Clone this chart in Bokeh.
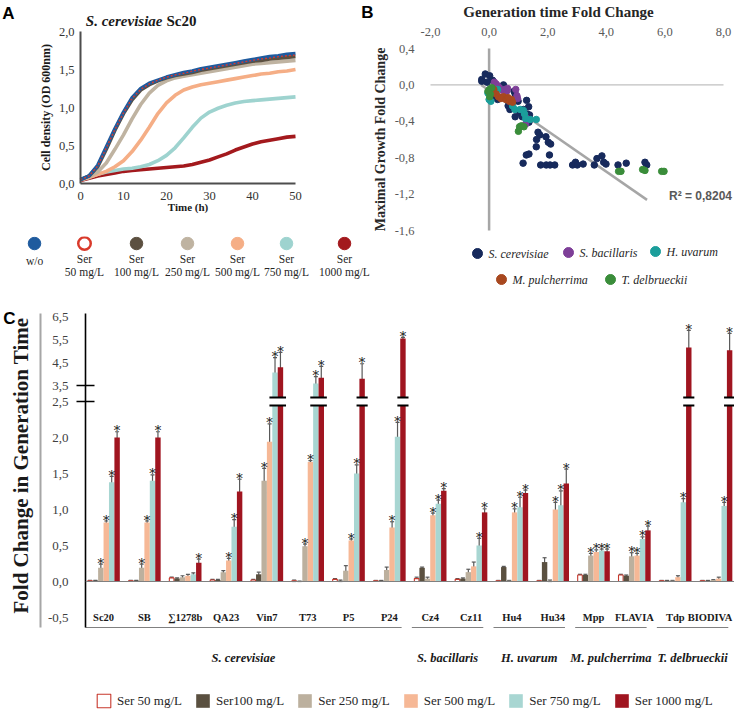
import math
from bokeh.plotting import figure
from bokeh.models import (Range1d, FixedTicker, Label, Span, Whisker, ColumnDataSource,
                          Legend, LegendItem, TeeHead)
from bokeh.layouts import column, row
from bokeh.embed import file_html
from bokeh.resources import INLINE
from bokeh.core.properties import value

SERIF = "Liberation Serif"
SANS = "Liberation Sans"
TXT = "#262626"

# ====================== DATA ======================
# ---- Panel A : growth curves (OD 600nm) ----
time_h = [0, 2, 4, 6, 8, 10, 12, 14, 16, 18, 20, 22, 24, 26, 28, 30, 32, 34, 36, 38, 40, 42, 44, 46, 48, 50]
od_wo = [0.05, 0.10, 0.24, 0.48, 0.72, 0.94, 1.13, 1.25, 1.32, 1.36, 1.40, 1.43, 1.46, 1.48, 1.51, 1.53, 1.55, 1.57, 1.59, 1.61, 1.63, 1.65, 1.67, 1.68, 1.70, 1.71]
od_ser50 = [0.05, 0.10, 0.23, 0.47, 0.71, 0.93, 1.12, 1.24, 1.31, 1.36, 1.40, 1.43, 1.45, 1.48, 1.50, 1.52, 1.54, 1.56, 1.58, 1.60, 1.62, 1.64, 1.65, 1.67, 1.68, 1.69]
od_ser100 = [0.05, 0.10, 0.22, 0.45, 0.70, 0.92, 1.10, 1.23, 1.30, 1.35, 1.39, 1.42, 1.44, 1.46, 1.49, 1.51, 1.53, 1.55, 1.57, 1.59, 1.61, 1.62, 1.64, 1.65, 1.66, 1.67]
od_ser250 = [0.05, 0.09, 0.15, 0.27, 0.45, 0.64, 0.85, 1.04, 1.19, 1.29, 1.35, 1.39, 1.41, 1.43, 1.45, 1.47, 1.49, 1.51, 1.53, 1.55, 1.57, 1.58, 1.59, 1.60, 1.61, 1.62]
od_ser500 = [0.05, 0.08, 0.12, 0.16, 0.22, 0.30, 0.42, 0.57, 0.74, 0.92, 1.06, 1.16, 1.23, 1.27, 1.30, 1.32, 1.34, 1.36, 1.38, 1.40, 1.42, 1.44, 1.45, 1.47, 1.48, 1.50]
od_ser750 = [0.05, 0.08, 0.12, 0.15, 0.17, 0.19, 0.20, 0.22, 0.25, 0.30, 0.37, 0.47, 0.60, 0.74, 0.86, 0.94, 0.99, 1.03, 1.06, 1.08, 1.09, 1.10, 1.11, 1.12, 1.13, 1.14]
od_ser1000 = [0.04, 0.07, 0.10, 0.12, 0.14, 0.16, 0.17, 0.18, 0.19, 0.20, 0.21, 0.22, 0.23, 0.25, 0.28, 0.31, 0.35, 0.39, 0.44, 0.48, 0.52, 0.55, 0.57, 0.59, 0.61, 0.62]
curve_names = ["w/o", "Ser 50 mg/L", "Ser 100 mg/L", "Ser 250 mg/L", "Ser 500 mg/L", "Ser 750 mg/L", "Ser 1000 mg/L"]
curve_colors = ["#1F5B9E", "#D93A2B", "#5C5040", "#BFB3A1", "#F5AE86", "#9ED3CF", "#A3191D"]
a_xticks = [0, 10, 20, 30, 40, 50]
a_yticks = [0, 0.5, 1.0, 1.5, 2.0]

# ---- Panel B : generation time FC vs maximal growth FC ----
sc_x = [-0.25, -0.13, 0.02, -0.25, 0.12, -0.07, 0.09, 0.38, 0.29, 0.49, 0.65, 0.71, 0.85, 0.89, 0.89, 0.99, 1.05, 1.13, 1.17, 1.28, 1.30, 1.35, 1.38, 1.36, 1.67, 1.73, 1.62, 1.61, 1.94, 2.02, 2.10, 1.27, 1.36, 1.16, 1.76, 1.95, 2.06, 2.08, 2.24, 2.85, 2.95, 3.01, 3.21, 3.59, 3.68, 3.85, 3.91, 3.99, 4.40, 4.68, 5.32, 5.38]
sc_y = [0.06, 0.12, 0.10, 0.04, 0.05, 0.03, -0.13, -0.14, -0.16, 0.00, -0.23, -0.27, -0.07, -0.10, -0.35, -0.18, -0.31, -0.35, -0.27, -0.17, -0.32, -0.24, -0.33, -0.41, -0.52, -0.55, -0.60, -0.68, -0.57, -0.63, -0.65, -0.77, -0.76, -0.86, -0.88, -0.88, -0.77, -0.88, -0.88, -0.88, -0.85, -0.88, -0.87, -0.88, -0.81, -0.78, -0.85, -0.87, -0.88, -0.86, -0.85, -0.88]
sb_x = [0.18, 0.24, 0.29, 0.35, 0.46, 0.54, 0.60, 0.63, 0.91, 0.95, 0.97, 1.29, 1.25]
sb_y = [0.03, 0.01, -0.01, -0.03, -0.06, -0.05, -0.07, -0.04, -0.05, -0.12, -0.15, -0.37, -0.43]
hu_x = [-0.04, 0.00, 0.06, 0.12, 0.29, 0.80, 0.88, 1.06, 1.17, 1.21, 1.25, 1.61, 1.40]
hu_y = [-0.09, -0.16, -0.18, -0.07, -0.05, -0.23, -0.27, -0.27, -0.28, -0.32, -0.37, -0.38, -0.38]
mp_x = [0.16, 0.24, 0.32, 0.40, 0.49, 0.57, 0.69, 0.76, 0.80, 0.65]
mp_y = [-0.05, -0.10, -0.13, -0.15, -0.13, -0.16, -0.18, -0.16, -0.19, -0.14]
td_x = [0.01, 0.04, -0.04, 0.09, 0.02, 1.04, 1.10, 1.19, 1.00, 4.42, 4.50, 5.24, 5.32, 5.89, 5.97]
td_y = [-0.05, -0.10, -0.07, -0.03, -0.13, -0.46, -0.45, -0.46, -0.51, -0.95, -0.95, -0.93, -0.94, -0.95, -0.95]
species = ["S. cerevisiae", "S. bacillaris", "H. uvarum", "M. pulcherrima", "T. delbrueckii"]
species_colors = ["#172A5C", "#7E3F98", "#1B9E9B", "#A8481F", "#3A8D3A"]
trend_x = [-0.27, 5.39]
trend_slope = -0.2232
trend_intercept = -0.0603
r2_text = "R² = 0,8204"
b_xticks = [-2, 0, 2, 4, 6, 8]
b_yticks = [-1.6, -1.2, -0.8, -0.4, 0.0, 0.4]

# ---- Panel C : fold change in generation time ----
strains = ["Sc20", "SB", "∑1278b", "QA23", "Vin7", "T73", "P5", "P24", "Cz4", "Cz11",
           "Hu4", "Hu34", "Mpp", "FLAVIA", "Tdp", "BIODIVA"]
species_groups = ["S. cerevisiae", "S. bacillaris", "H. uvarum", "M. pulcherrima", "T. delbrueckii"]
species_group_size = [8, 2, 2, 2, 2]
conc_labels = ["Ser 50 mg/L", "Ser100 mg/L", "Ser 250 mg/L", "Ser 500 mg/L", "Ser 750 mg/L", "Ser 1000 mg/L"]
conc_colors = ["#FFFFFF", "#5A5040", "#BCB09E", "#F6B896", "#A8D6D2", "#A01520"]
gt_50 = [0.01, 0.01, 0.05, 0.02, 0.02, 0.01, 0.03, 0.01, 0.04, 0.03, 0.01, 0.01, 0.09, 0.09, 0.01, 0.01]
gt_100 = [0.01, 0.01, 0.04, 0.02, 0.10, 0.00, 0.01, 0.01, 0.19, 0.04, 0.20, 0.27, 0.09, 0.08, 0.01, 0.01]
gt_250 = [0.19, 0.19, 0.06, 0.13, 1.40, 0.49, 0.15, 0.16, 0.04, 0.13, 0.01, 0.01, 0.36, 0.35, 0.01, 0.02]
gt_500 = [0.82, 0.82, 0.08, 0.29, 1.94, 1.66, 0.57, 0.75, 0.92, 0.21, 0.96, 1.00, 0.41, 0.36, 0.06, 0.04]
gt_750 = [1.38, 1.40, 0.10, 0.76, 4.07, 3.59, 1.50, 2.01, 1.08, 0.50, 1.03, 1.06, 0.43, 0.59, 1.10, 1.05]
gt_1000 = [2.00, 2.00, 0.26, 1.25, 4.30, 3.84, 3.80, 5.57, 1.26, 0.96, 1.23, 1.36, 0.42, 0.71, 5.18, 5.05]
err_50 = [0.005, 0.005, 0.01, 0.01, 0.01, 0.01, 0.01, 0.005, 0.02, 0.01, 0.005, 0.005, 0.01, 0.01, 0.005, 0.005]
err_100 = [0.005, 0.005, 0.01, 0.01, 0.03, 0.005, 0.01, 0.005, 0.01, 0.01, 0.01, 0.06, 0.01, 0.01, 0.005, 0.005]
err_250 = [0.05, 0.05, 0.02, 0.02, 0.17, 0.03, 0.07, 0.04, 0.02, 0.04, 0.005, 0.01, 0.03, 0.05, 0.005, 0.005]
err_500 = [0.02, 0.02, 0.02, 0.03, 0.25, 0.02, 0.02, 0.08, 0.03, 0.06, 0.05, 0.10, 0.03, 0.03, 0.02, 0.02]
err_750 = [0.08, 0.08, 0.02, 0.10, 0.66, 0.30, 0.12, 0.20, 0.05, 0.10, 0.14, 0.20, 0.02, 0.03, 0.05, 0.05]
err_1000 = [0.08, 0.08, 0.05, 0.17, 0.66, 0.50, 0.66, 0.05, 0.03, 0.05, 0.04, 0.20, 0.03, 0.06, 0.75, 0.75]
sig_50 = [0] * 16
sig_100 = [0] * 16
sig_250 = [1, 1, 0, 0, 1, 1, 0, 0, 0, 0, 0, 0, 1, 1, 0, 0]
sig_500 = [1, 1, 0, 1, 1, 1, 1, 1, 1, 0, 1, 1, 1, 1, 0, 0]
sig_750 = [1, 1, 0, 1, 1, 1, 1, 1, 1, 1, 1, 1, 1, 1, 1, 1]
sig_1000 = [1] * 16
c_ytick_values = [-0.5, 0.0, 0.5, 1.0, 1.5, 2.0, 2.5, 3.5, 4.5, 5.5, 6.5]
BREAK_LO, BREAK_HI = 2.5, 3.5

gt_all = [gt_50, gt_100, gt_250, gt_500, gt_750, gt_1000]
err_all = [err_50, err_100, err_250, err_500, err_750, err_1000]
sig_all = [sig_50, sig_100, sig_250, sig_500, sig_750, sig_1000]


def comma(v, nd=1):
    return f"{v:.{nd}f}".replace(".", ",")


def blank(p):
    p.grid.visible = False
    p.outline_line_color = None
    p.background_fill_color = "white"
    p.border_fill_color = "white"


def pixel_fig(w, h, y_range=None):
    p = figure(width=w, height=h, x_range=Range1d(0, w),
               y_range=y_range if y_range is not None else Range1d(h, 0),
               x_axis_location=None, y_axis_location=None, output_backend="svg",
               toolbar_location=None, min_border_left=0, min_border_right=0,
               min_border_top=0, min_border_bottom=0)
    blank(p)
    return p


def letter(p, x, y, t):
    p.text([x], [y], text=[t], text_font=value(SANS), text_font_style="bold",
           text_font_size="17px", text_align="center", text_baseline="middle",
           text_color="black")


HT = 236  # top row height; frames cover the whole figures, axes sit at fixed data locations

# ====================== PANEL A ======================
WA = 360
A_FL, A_FR = 80, 295          # page px of t = 0 and t = 50
A_ZERO = 183                  # page px of OD = 0
A_PXY = 76.0                  # px per OD unit
A_PXX = (A_FR - A_FL) / 50.0
pA = figure(width=WA, height=HT, x_range=Range1d(-A_FL / A_PXX, (WA - A_FL) / A_PXX),
            y_range=Range1d(-(HT - A_ZERO) / A_PXY, A_ZERO / A_PXY),
            output_backend="svg", toolbar_location=None,
            min_border_left=0, min_border_right=0, min_border_top=0, min_border_bottom=0)
blank(pA)


def a_xy(px, py):  # page pixels -> panel A data
    return ((px - A_FL) / A_PXX, (A_ZERO - py) / A_PXY)


series_A = [od_wo, od_ser50, od_ser100, od_ser250, od_ser500, od_ser750, od_ser1000]
for k in [6, 5, 4, 3, 2, 0]:
    pA.line(time_h, series_A[k], line_color=curve_colors[k], line_width=3.6)
pA.line(time_h, series_A[1], line_color=curve_colors[1], line_width=1.4, line_dash="2 2")

for ax in (pA.xaxis[0], pA.yaxis[0]):
    ax.axis_line_color = "#4D4D4D"
    ax.axis_line_width = 2
    ax.major_tick_line_color = None
    ax.minor_tick_line_color = None
    ax.major_label_text_font = SERIF
    ax.major_label_text_font_size = "12.5px"
    ax.major_label_text_color = "#333333"
    ax.axis_label_text_font = SERIF
    ax.axis_label_text_font_style = "bold"
    ax.axis_label_text_color = "#1A1A1A"
pA.xaxis.ticker = FixedTicker(ticks=a_xticks)
pA.xaxis.fixed_location = 0
pA.xaxis.bounds = (0, 50)
pA.yaxis.ticker = FixedTicker(ticks=a_yticks)
pA.yaxis.fixed_location = 0
pA.yaxis.bounds = (0, 2.0)
pA.yaxis.major_label_overrides = {t: comma(t) for t in a_yticks}
pA.xaxis.major_label_standoff = 2
pA.yaxis.major_label_standoff = 0
pA.xaxis.axis_label = "Time (h)"
pA.xaxis.axis_label_text_font_size = "11px"
pA.xaxis.axis_label_standoff = -2
pA.yaxis.axis_label = "Cell density (OD 600nm)"
pA.yaxis.axis_label_text_font_size = "12px"
pA.yaxis.axis_label_standoff = 3

x, y = a_xy(8, 13)
letter(pA, x, y, "A")
x, y = a_xy(162, 20)
pA.add_layout(Label(x=x, y=y, text="S. cerevisiae", text_font=SERIF, text_font_style="bold italic",
                    text_font_size="15px", text_align="right", text_baseline="middle",
                    text_color="#1A1A1A"))
x, y = a_xy(166, 20)
pA.add_layout(Label(x=x, y=y, text="Sc20", text_font=SERIF, text_font_style="bold",
                    text_font_size="15px", text_align="left", text_baseline="middle",
                    text_color="#1A1A1A"))

# ====================== PANEL B ======================
B_X0 = WA
WB = 734 - B_X0
B_PXX = 29.3
B_PXY = 91.0
B_FL = 430                    # page px of x = -2
B_XZERO = B_FL + 2 * B_PXX
B_TOP = 48                    # page px of y = 0.4
pB = figure(width=WB, height=HT,
            x_range=Range1d(-2 - (B_FL - B_X0) / B_PXX, -2 + (734 - B_FL) / B_PXX),
            y_range=Range1d(0.4 - (HT - B_TOP) / B_PXY, 0.4 + B_TOP / B_PXY),
            x_axis_location="above", output_backend="svg", toolbar_location=None,
            min_border_left=0, min_border_right=0, min_border_top=0, min_border_bottom=0)
blank(pB)


def b_xy(px, py):
    return ((px - B_XZERO) / B_PXX, 0.4 - (py - B_TOP) / B_PXY)


for ax in (pB.xaxis[0], pB.yaxis[0]):
    ax.axis_line_color = None
    ax.major_tick_line_color = None
    ax.minor_tick_line_color = None
    ax.major_label_text_font = SERIF
    ax.major_label_text_font_size = "12.5px"
    ax.major_label_text_color = "#595959"
pB.xaxis.ticker = FixedTicker(ticks=b_xticks)
pB.xaxis.major_label_overrides = {t: comma(t) for t in b_xticks}
pB.xaxis.major_label_standoff = 7
pB.xaxis.bounds = (-2, 8)
pB.xaxis.fixed_location = 0.4
pB.yaxis.ticker = FixedTicker(ticks=b_yticks)
pB.yaxis.bounds = (-1.6, 0.4)
pB.yaxis.fixed_location = -2
pB.yaxis.major_label_overrides = {t: comma(t) for t in b_yticks}
pB.yaxis.major_label_standoff = 10
pB.yaxis.axis_label = "Maximal Growth Fold Change"
pB.yaxis.axis_label_text_font = SERIF
pB.yaxis.axis_label_text_font_style = "bold"
pB.yaxis.axis_label_text_font_size = "14px"
pB.yaxis.axis_label_text_color = "#262626"
pB.yaxis.axis_label_standoff = 4

pB.segment(x0=[0], y0=[b_yticks[0]], x1=[0], y1=[b_yticks[-1]], line_color="#A6A6A6", line_width=2.5)
pB.segment(x0=[b_xticks[0]], y0=[0], x1=[b_xticks[-1]], y1=[0], line_color="#C0C0C0", line_width=1.2)
pB.line(trend_x, [trend_intercept + trend_slope * v for v in trend_x],
        line_color="#A6A6A6", line_width=2.5)
for (xs, ys), col in zip([(sc_x, sc_y), (sb_x, sb_y), (hu_x, hu_y), (mp_x, mp_y), (td_x, td_y)],
                         species_colors):
    pB.scatter(xs, ys, size=6.5, fill_color=col, line_color=col)

x, y = b_xy(700, 195)
pB.text([x], [y], text=[r2_text], text_font=value(SANS),
        text_font_style="bold", text_font_size="12px", text_align="center",
        text_baseline="middle", text_color="#595959")
x, y = b_xy(558, 11)
pB.add_layout(Label(x=x, y=y, text="Generation time Fold Change", text_font=SERIF,
                    text_font_style="bold", text_font_size="15px", text_align="center",
                    text_baseline="middle", text_color="#262626"))
x, y = b_xy(367, 12)
letter(pB, x, y, "B")

# ====================== LEGEND STRIP ======================
S_Y0 = HT
HS = 305 - S_Y0
pS = pixel_fig(734, HS)
legA_x = [34, 84, 136, 187, 237, 286, 344]
fills = [c if k != 1 else "white" for k, c in enumerate(curve_colors)]
pS.scatter(legA_x, [243 - S_Y0] * 7, size=12.5, fill_color=fills, line_color=curve_colors,
           line_width=[1 if k != 1 else 2.5 for k in range(7)])
top_lines = [n.split(" ", 1)[0] if n.startswith("Ser") else n for n in curve_names]
bot_lines = [n.split(" ", 1)[1] if n.startswith("Ser") else "" for n in curve_names]
pS.text(legA_x, [(258 if n.startswith("Ser") else 260) - S_Y0 for n in curve_names], text=top_lines,
        text_font=value(SERIF), text_font_size="11.5px", text_align="center",
        text_baseline="middle", text_color=TXT)
pS.text(legA_x, [271 - S_Y0] * 7, text=bot_lines, text_font=value(SERIF), text_font_size="11.5px",
        text_align="center", text_baseline="middle", text_color=TXT)

legB_mx = [477, 568, 655, 501, 610]
legB_y = [253 - S_Y0, 252 - S_Y0, 251 - S_Y0, 279 - S_Y0, 279 - S_Y0]
pS.scatter(legB_mx, legB_y, size=10, fill_color=species_colors, line_color=species_colors)
pS.text([v + 11 for v in legB_mx], legB_y, text=species, text_font=value(SERIF),
        text_font_style="italic", text_font_size="12px", text_align="left",
        text_baseline="middle", text_color=TXT)

# ====================== PANEL C ======================
C_Y0 = 305
HC = 711 - C_Y0
C_X0 = 44
WC = 734 - C_X0
C_L = 76 - C_X0
PXG = 41.4
PXV = 72.0
Y_ZERO = 581
X0 = -(94.3 - 76) / PXG
X1 = X0 + (WC - C_L) / PXG
D_TOP = (Y_ZERO - C_Y0) / PXV
D_BOT = D_TOP - HC / PXV
c_yrange = Range1d(D_BOT, D_TOP)

pC = figure(width=WC, height=HC, x_range=Range1d(X0, X1), y_range=c_yrange,
            x_axis_location=None, output_backend="svg", toolbar_location=None,
            min_border_left=C_L, min_border_right=0, min_border_top=0, min_border_bottom=0)
blank(pC)

UPPER_SCALE = 22.67 / PXV
GAP = 16.0 / PXV


def dmap(v):
    if v <= BREAK_LO:
        return v
    if v >= BREAK_HI:
        return BREAK_LO + GAP + (v - BREAK_HI) * UPPER_SCALE
    return BREAK_LO + (v - BREAK_LO) * GAP


def dpx(py):
    return (Y_ZERO - py) / PXV


AX_BOUNDS = (dpx(627), dpx(313))
tick_pos = [round(dmap(v), 4) for v in c_ytick_values]
yax = pC.yaxis[0]
yax.ticker = FixedTicker(ticks=tick_pos, minor_ticks=[round(dmap(BREAK_LO), 4), round(dmap(BREAK_HI), 4)])
yax.major_label_overrides = {p: comma(v) for p, v in zip(tick_pos, c_ytick_values)}
yax.bounds = AX_BOUNDS
yax.axis_line_color = "black"
yax.axis_line_width = 1.6
yax.major_tick_line_color = None
yax.major_tick_in = 0
yax.major_tick_out = 0
yax.minor_tick_in = 9
yax.minor_tick_out = 9
yax.minor_tick_line_color = "black"
yax.minor_tick_line_width = 1.6
yax.major_label_standoff = 8
yax.major_label_text_font = SERIF
yax.major_label_text_font_size = "13px"
yax.major_label_text_color = "#404040"

pC.add_layout(Span(location=0, dimension="width", line_color="#808080", line_width=1))

BW = 5.5 / PXG
bar_renderers = []
for j in range(6):
    xs = [i + (j - 2.5) * BW for i in range(len(strains))]
    tops = [dmap(v) for v in gt_all[j]]
    if j == 0:
        r = pC.vbar(x=xs, top=tops, bottom=0, width=BW * 0.85, fill_color="white",
                    line_color="#C8382C", line_width=1.1)
    else:
        r = pC.vbar(x=xs, top=tops, bottom=0, width=BW, fill_color=conc_colors[j],
                    line_color=None)
    bar_renderers.append(r)

# break marks on bars exceeding the axis break
b_lo, b_hi = dpx(405), dpx(397)
for i in range(len(strains)):
    broken = [j for j in range(6) if gt_all[j][i] > BREAK_LO]
    if not broken:
        continue
    left = i + (min(broken) - 2.5) * BW - BW / 2 - 0.07
    right = i + (max(broken) - 2.5) * BW + BW / 2 + 0.07
    pC.quad(left=[left], right=[right], bottom=[b_lo], top=[b_hi], fill_color="white",
            line_color=None)
    pC.segment(x0=[left, left], y0=[b_lo, b_hi], x1=[right, right], y1=[b_lo, b_hi],
               line_color="black", line_width=1.8)

# error bars & significance stars
ex, eu, el, sx, sy = [], [], [], [], []
for j in range(6):
    for i in range(len(strains)):
        v, e = gt_all[j][i], err_all[j][i]
        xx = i + (j - 2.5) * BW
        ex.append(xx)
        eu.append(dmap(v + e))
        el.append(dmap(max(v - e, 0)))
        if sig_all[j][i]:
            sx.append(xx)
            sy.append(dmap(v + e))
esrc = ColumnDataSource(dict(x=ex, u=eu, l=el))
pC.add_layout(Whisker(source=esrc, base="x", upper="u", lower="l", dimension="height",
                      line_color="#595959", line_width=1.2,
                      upper_head=TeeHead(size=4, line_color="#595959", line_width=1.2),
                      lower_head=TeeHead(size=4, line_color="#595959", line_width=1.2)))
pC.text(sx, sy, text=["*"] * len(sx), text_font=value("DejaVu Serif"), text_font_size="13px",
        text_align="center", text_baseline="middle", y_offset=-1, text_color="#111111")

# strain labels (last one nudged so it stays inside the page)
label_nudge = [0] * (len(strains) - 1) + [-6]
pC.text(list(range(len(strains))), [-0.5] * len(strains), text=strains, text_font=value(SERIF),
        text_font_style="bold", text_font_size="10.5px", text_align="center",
        text_baseline="middle", x_offset=label_nudge, text_color="#1A1A1A")

# species brackets and names
g0, bx0, bx1, gc = 0, [], [], []
for n in species_group_size:
    first, last = g0, g0 + n - 1
    bx0.append(first - 0.45)
    bx1.append(last + 0.3)
    gc.append((first - 0.45 + last + 0.3) / 2)
    g0 += n
pC.segment(x0=bx0, y0=[dpx(627)] * 5, x1=bx1, y1=[dpx(627)] * 5, line_color="#808080", line_width=1)
pC.text(gc, [dpx(657)] * 5, text=species_groups, text_font=value(SERIF),
        text_font_style="bold italic", text_font_size="12.5px", text_align="center",
        text_baseline="middle", text_color="#1A1A1A")

legC = Legend(items=[LegendItem(label=lab, renderers=[r]) for lab, r in zip(conc_labels, bar_renderers)],
              orientation="horizontal", location=(86 - 76, 2), glyph_width=17, glyph_height=17,
              label_height=17, label_standoff=5, spacing=12, padding=0, margin=0,
              border_line_color=None, background_fill_alpha=0,
              label_text_font=SERIF, label_text_font_size="13px", label_text_color=TXT)
pC.add_layout(legC)

# left strip of panel C: letter, grey rule and rotated axis title
pCl = figure(width=C_X0, height=HC, x_range=Range1d(0, C_X0), y_range=c_yrange,
             x_axis_location=None, y_axis_location=None, output_backend="svg",
             toolbar_location=None, min_border_left=0, min_border_right=0,
             min_border_top=0, min_border_bottom=0)
blank(pCl)
pCl.segment(x0=[40], y0=[AX_BOUNDS[0]], x1=[40], y1=[AX_BOUNDS[1]], line_color="#A6A6A6", line_width=2)
pCl.text([20], [dpx(465)], text=["Fold Change in Generation Time"], angle=math.pi / 2,
         text_font=value(SERIF), text_font_style="bold", text_font_size="21px",
         text_align="center", text_baseline="middle", text_color="#1A1A1A")
letter(pCl, 9, dpx(318), "C")

layout = column(row(pA, pB), pS, row(pCl, pC))
open("out.html", "w").write(file_html(layout, INLINE))
